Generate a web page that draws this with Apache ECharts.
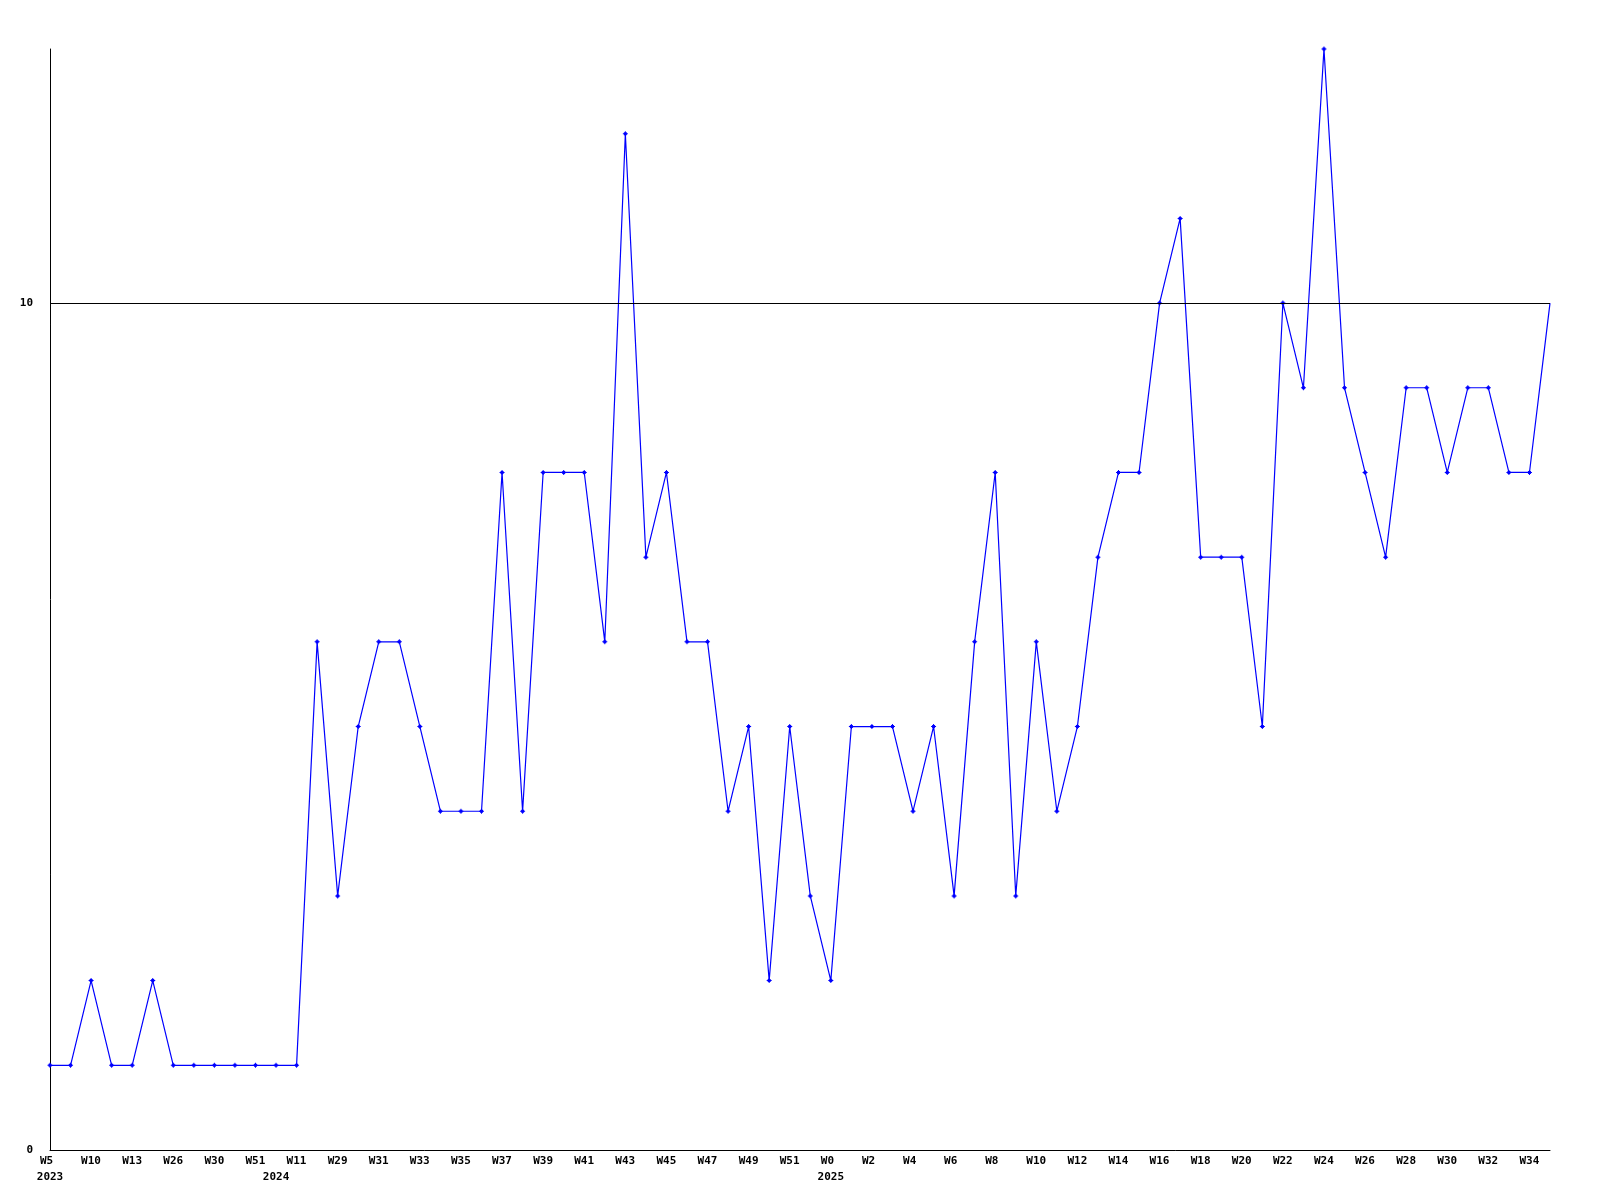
<!DOCTYPE html>
<html>
<head>
<meta charset="utf-8">
<script src="https://cdn.jsdelivr.net/npm/echarts@6/dist/echarts.min.js"></script>
<style>html,body{margin:0;padding:0;background:#fff;}#c{width:1600px;height:1200px;}</style>
</head>
<body>
<div id="c"></div>
<script>
const weeks = ["W5","W8","W10","W12","W13","W20","W26","W28","W30","W40","W51","W5","W11","W20",
  "W29","W30","W31","W32","W33","W34","W35","W36","W37","W38","W39","W40","W41","W42","W43","W44",
  "W45","W46","W47","W48","W49","W50","W51","W52",
  "W0","W1","W2","W3","W4","W5","W6","W7","W8","W9","W10","W11","W12","W13","W14","W15","W16","W17",
  "W18","W19","W20","W21","W22","W23","W24","W25","W26","W27","W28","W29","W30","W31","W32","W33","W34","W35"];
const years = ["2023","2023","2023","2023","2023","2023","2023","2023","2023","2023","2023","2024","2024","2024",
  "2024","2024","2024","2024","2024","2024","2024","2024","2024","2024","2024","2024","2024","2024","2024","2024",
  "2024","2024","2024","2024","2024","2024","2024","2024",
  "2025","2025","2025","2025","2025","2025","2025","2025","2025","2025","2025","2025","2025","2025","2025","2025","2025","2025",
  "2025","2025","2025","2025","2025","2025","2025","2025","2025","2025","2025","2025","2025","2025","2025","2025","2025","2025"];
const values = [1,1,2,1,1,2,1,1,1,1,1,1,1,6,3,5,6,6,5,4,4,4,8,4,8,8,8,6,12,7,
  8,6,6,4,5,2,5,3,2,5,5,5,4,5,3,6,8,3,6,4,5,7,8,8,10,11,7,7,7,5,
  10,9,13,9,8,7,9,9,8,9,9,8,8,10];
const yTicks = [0, 10];
const yMax = 13;
const refLine = 10;

const cats = weeks.map((w, i) => w + "|" + years[i]);
const font = { fontFamily: "DejaVu Sans Mono", fontWeight: "bold", fontSize: 11, color: "#000" };

const chart = echarts.init(document.getElementById('c'), null, { renderer: 'canvas' });
chart.setOption({
  backgroundColor: '#fff',
  animation: false,
  grid: { left: 50, right: 50, top: 49, bottom: 50 },
  xAxis: [{
    type: 'category', data: cats, boundaryGap: false,
    axisLine: { lineStyle: { color: '#000', width: 1 } },
    axisTick: { show: false }, splitLine: { show: false },
    axisLabel: Object.assign({}, font, {
      interval: 1, margin: 6,
      formatter: v => '{w|' + v.split('|')[0] + '}',
      rich: { w: Object.assign({}, font, { width: 20, align: 'left' }) }
    })
  }, {
    type: 'category', data: cats, boundaryGap: false, position: 'bottom', offset: 0,
    axisLine: { show: false }, axisTick: { show: false }, splitLine: { show: false },
    axisLabel: Object.assign({}, font, {
      margin: 22,
      interval: (i) => i === 0 || years[i] !== years[i - 1],
      formatter: v => v.split('|')[1]
    })
  }],
  yAxis: {
    type: 'value', min: 0, max: yMax, interval: yTicks[1] - yTicks[0],
    axisLine: { show: true, lineStyle: { color: '#000', width: 1 } },
    axisTick: { show: false }, splitLine: { show: false },
    axisLabel: Object.assign({}, font, { margin: 17, showMaxLabel: false,
      formatter: v => yTicks.indexOf(v) >= 0 ? String(v) : '' })
  },
  series: [{
    type: 'line', data: values, xAxisIndex: 0,
    symbol: 'path://M2,0H3V1H4V2H5V3H4V4H3V5H2V4H1V3H0V2H1V1H2Z',
    symbolSize: (v, p) => p.dataIndex === values.length - 1 ? 0 : 5,
    itemStyle: { color: '#0000ff' },
    lineStyle: { color: '#0000ff', width: 1.2 },
    markLine: {
      silent: true, symbol: 'none', label: { show: false },
      lineStyle: { color: '#000', width: 1, type: 'solid' },
      data: [{ yAxis: refLine }]
    },
    z: 3
  }]
});
</script>
</body>
</html>
